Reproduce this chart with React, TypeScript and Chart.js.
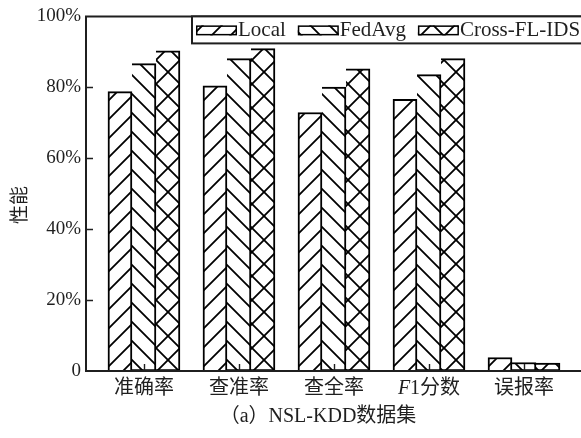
import React, { useEffect, useRef } from 'react';
import { Chart, registerables } from 'chart.js';

Chart.register(...registerables);

// ---- data ----
const categories = ['准确率', '查准率', '查全率', 'F1分数', '误报率'];
const seriesNames = ['Local', 'FedAvg', 'Cross-FL-IDS'];
const localValues = [78.8, 80.4, 72.9, 76.6, 3.8];
const fedAvgValues = [86.7, 88.1, 80.1, 83.6, 2.4];
const crossValues = [90.3, 90.9, 85.2, 88.1, 2.2];
const yTickValues = [0, 20, 40, 60, 80, 100];
const yTitle = '性能';
const caption = '（a）NSL-KDD数据集';

const SERIF = '"Liberation Serif", "Noto Sans CJK SC", serif';
const CJK = '"Noto Sans CJK SC", sans-serif';
const INK = '#1f1f1f';

function makePattern(kind: string): CanvasPattern {
  const s = kind === 'cross' ? 24 : 19;
  const c = document.createElement('canvas');
  c.width = s;
  c.height = s;
  const g = c.getContext('2d')!;
  g.fillStyle = '#fff';
  g.fillRect(0, 0, s, s);
  g.strokeStyle = '#000';
  g.lineWidth = 1.8;
  g.lineCap = 'square';
  const fwd = () => {
    g.beginPath();
    g.moveTo(0, s); g.lineTo(s, 0);
    g.moveTo(-2, 2); g.lineTo(2, -2);
    g.moveTo(s - 2, s + 2); g.lineTo(s + 2, s - 2);
    g.stroke();
  };
  const back = () => {
    g.beginPath();
    g.moveTo(0, 0); g.lineTo(s, s);
    g.moveTo(s - 2, -2); g.lineTo(s + 2, 2);
    g.moveTo(-2, s - 2); g.lineTo(2, s + 2);
    g.stroke();
  };
  if (kind === 'fwd') fwd();
  else if (kind === 'back') back();
  else { fwd(); back(); }
  return g.createPattern(c, 'repeat')!;
}

export default function App() {
  const ref = useRef<HTMLCanvasElement | null>(null);

  useEffect(() => {
    document.body.style.margin = '0';
    const canvas = ref.current!;
    const patterns = [makePattern('fwd'), makePattern('back'), makePattern('cross')];
    const seriesValues = [localValues, fedAvgValues, crossValues];

    const decor = {
      id: 'decor',
      afterDraw(chart: any) {
        const { ctx, chartArea: a, scales } = chart;
        const xs = scales.x;
        const ys = scales.y;
        ctx.save();
        ctx.strokeStyle = INK;
        ctx.lineCap = 'butt';

        // axes frame (left, bottom, top)
        ctx.lineWidth = 2;
        ctx.beginPath();
        ctx.moveTo(a.left, a.top);
        ctx.lineTo(a.right + 2, a.top);
        ctx.moveTo(a.left, a.top - 1);
        ctx.lineTo(a.left, a.bottom + 1);
        ctx.moveTo(a.left - 1, a.bottom);
        ctx.lineTo(a.right + 2, a.bottom);
        ctx.stroke();

        // inward ticks
        ctx.lineWidth = 1.4;
        ctx.beginPath();
        yTickValues.forEach((v) => {
          if (v === 0 || v === 100) return;
          const py = Math.round(ys.getPixelForValue(v)) + 0.5;
          ctx.moveTo(a.left, py);
          ctx.lineTo(a.left + 7, py);
        });
        categories.forEach((_, i) => {
          const px = Math.round(xs.getPixelForValue(i)) + 0.5;
          ctx.moveTo(px, a.bottom);
          ctx.lineTo(px, a.bottom - 7);
        });
        ctx.stroke();

        // x category labels
        ctx.fillStyle = INK;
        ctx.textBaseline = 'middle';
        const labelY = a.bottom + 18;
        categories.forEach((lab, i) => {
          const cx = xs.getPixelForValue(i);
          const parts: { t: string; f: string }[] = [];
          if (lab.startsWith('F1')) {
            parts.push({ t: 'F', f: `italic 20px ${SERIF}` });
            parts.push({ t: '1', f: `20px ${SERIF}` });
            parts.push({ t: lab.slice(2), f: `20px ${SERIF}` });
          } else {
            parts.push({ t: lab, f: `20px ${SERIF}` });
          }
          let total = 0;
          parts.forEach((p) => { ctx.font = p.f; total += ctx.measureText(p.t).width; });
          let x0 = cx - total / 2;
          ctx.textAlign = 'left';
          parts.forEach((p) => {
            ctx.font = p.f;
            ctx.fillText(p.t, x0, labelY);
            x0 += ctx.measureText(p.t).width;
          });
        });

        // caption
        ctx.font = `20px ${SERIF}`;
        ctx.textAlign = 'center';
        ctx.fillText(caption, 318, a.bottom + 46);

        // y title
        ctx.save();
        ctx.translate(19, 205);
        ctx.rotate(-Math.PI / 2);
        ctx.font = `19px ${CJK}`;
        ctx.textAlign = 'center';
        ctx.fillText(yTitle, 0, 0);
        ctx.restore();

        // legend box
        const lx = 192;
        const ly = a.top;
        const lh = 27;
        ctx.fillStyle = '#fff';
        ctx.fillRect(lx, ly, a.right - lx + 4, lh);
        ctx.lineWidth = 2;
        ctx.strokeStyle = INK;
        ctx.strokeRect(lx, ly, a.right - lx + 10, lh);
        let ix = lx + 4;
        chart.data.datasets.forEach((ds: any, k: number) => {
          const sw = 41, shh = 10, sy = ly + 9;
          ctx.fillStyle = patterns[k];
          ctx.fillRect(ix, sy, sw, shh);
          ctx.lineWidth = 1.5;
          ctx.strokeStyle = '#000';
          ctx.strokeRect(ix + 0.75, sy + 0.75, sw - 1.5, shh - 1.5);
          ctx.fillStyle = INK;
          ctx.font = `21px ${SERIF}`;
          ctx.textAlign = 'left';
          ctx.textBaseline = 'middle';
          ctx.fillText(ds.label, ix + sw + 1, ly + 14);
          ix += sw + 1 + ctx.measureText(ds.label).width + 12;
        });
        ctx.restore();
      },
    };

    const chart = new Chart(canvas, {
      type: 'bar',
      data: {
        datasets: seriesNames.map((name, k) => ({
          label: name,
          data: categories.map((_, i) => ({ x: i, y: seriesValues[k][i] })),
          backgroundColor: patterns[k],
          borderColor: '#000',
          borderWidth: 2,
          borderSkipped: k === 0 ? 'bottom' : 'left',
          barThickness: 24,
        })),
      },
      options: {
        responsive: false,
        animation: false,
        events: [],
        layout: { padding: { top: 12, left: 0, right: 0, bottom: 0 } },
        plugins: {
          legend: { display: false },
          tooltip: { enabled: false },
          title: { display: false },
        },
        scales: {
          x: {
            type: 'linear',
            offset: false,
            min: -0.61,
            max: 4.6,
            afterBuildTicks: (s: any) => { s.ticks = categories.map((_, i) => ({ value: i })); },
            afterFit: (s: any) => { s.height = 67; },
            ticks: { display: false },
            grid: { display: false, drawTicks: false, offset: false },
            border: { display: false },
          },
          y: {
            min: 0,
            max: 100,
            afterBuildTicks: (s: any) => { s.ticks = yTickValues.map((v) => ({ value: v })); },
            afterFit: (s: any) => { s.width = 86; },
            ticks: {
              callback: (v: any) => (Number(v) === 0 ? '0' : `${v}%`),
              font: { family: SERIF, size: 19 },
              color: INK,
              padding: 5,
            },
            grid: { display: false, drawTicks: false },
            border: { display: false },
          },
        },
      } as any,
      plugins: [decor],
    });
    return () => chart.destroy();
  }, []);

  return (
    <div style={{ width: 581, height: 438, position: 'relative' }}>
      <canvas ref={ref} width={581} height={438} style={{ display: 'block' }} />
    </div>
  );
}
